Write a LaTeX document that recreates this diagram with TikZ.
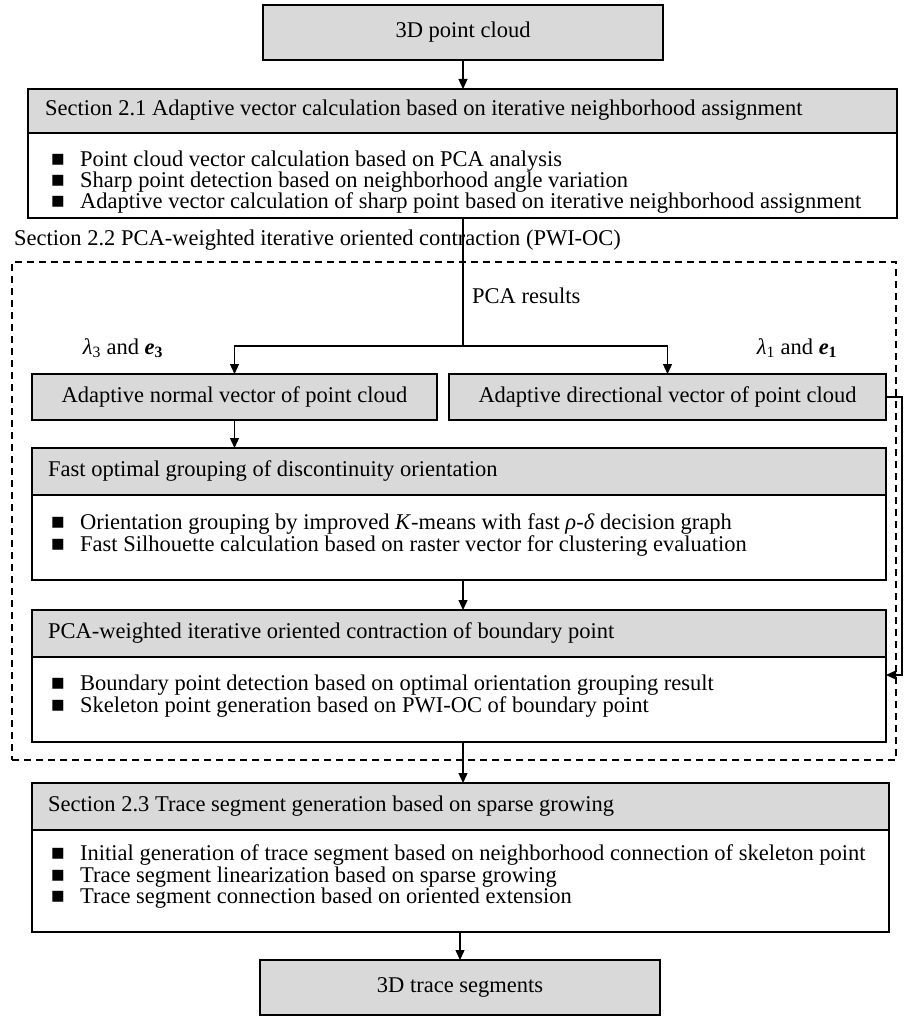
\documentclass[tikz,border=0pt]{standalone}
\usepackage{fontspec}
\setmainfont{Liberation Serif}
\usetikzlibrary{arrows.meta,calc}
\definecolor{hdrgray}{RGB}{217,217,217}
\newcommand{\bul}{\makebox[29pt][l]{■}}
\begin{document}
\begin{tikzpicture}[x=1pt,y=-1pt,
  box/.style={draw=black,line width=1.4pt,inner sep=0pt,outer sep=0pt},
  hdr/.style={box,fill=hdrgray},
  bdy/.style={box,fill=white},
  txt/.style={inner sep=0pt,anchor=west,font=\fontsize{22.5}{21}\selectfont,text height=15pt,text depth=5pt},
  ctr/.style={txt,anchor=center},
  conn/.style={line width=1.3pt,-{Triangle[length=10pt,width=9pt]}},
  plain/.style={line width=1.3pt},
  dashbox/.style={draw,line width=1.3pt,dash pattern=on 7pt off 5pt}]
\useasboundingbox (0,0) rectangle (903,1016);

% top box
\node[hdr,minimum width=400pt,minimum height=55pt,font=\fontsize{22.5}{21}\selectfont,text height=15pt,text depth=5pt] (pc) at (463,32.5) {3D point cloud};

% Section 2.1
\node[hdr,minimum width=869pt,minimum height=44pt] (s1h) at (462.5,111) {};
\node[bdy,minimum width=869pt,minimum height=85pt] (s1b) at (462.5,175.5) {};
\node[txt] (s1t) at (45,111) {Section 2.1 Adaptive vector calculation based on iterative neighborhood assignment};
\node[txt] (s1a) at (51,162) {\bul Point cloud vector calculation based on PCA analysis};
\node[txt] (s1c) at (51,183) {\bul Sharp point detection based on neighborhood angle variation};
\node[txt] (s1d) at (51,204) {\bul Adaptive vector calculation of sharp point based on iterative neighborhood assignment};

% Section 2.2 label and dashed frame
\node[txt] (s2lab) at (14,240) {Section 2.2 PCA-weighted iterative oriented contraction (PWI-OC)};
\node[dashbox,inner sep=0pt,minimum width=884pt,minimum height=498pt] (frame) at (454,511) {};
\node[txt] (pcar) at (472,298) {PCA results};
\node[ctr] (l3) at (123,349) {\textit{λ}\textsubscript{3} and \textbf{\textit{e}}\textsubscript{\textbf{3}}};
\node[ctr] (l1) at (797,349) {\textit{λ}\textsubscript{1} and \textbf{\textit{e}}\textsubscript{\textbf{1}}};

% normal / directional
\node[hdr,minimum width=405pt,minimum height=46pt,font=\fontsize{22.5}{21}\selectfont,text height=15pt,text depth=5pt] (nv) at (234.5,397) {Adaptive normal vector of point cloud};
\node[hdr,minimum width=437pt,minimum height=46pt,font=\fontsize{22.5}{21}\selectfont,text height=15pt,text depth=5pt] (dv) at (667.5,397) {Adaptive directional vector of point cloud};

% fast grouping
\node[hdr,minimum width=854pt,minimum height=47pt] (fh) at (459,471.5) {};
\node[bdy,minimum width=854pt,minimum height=85pt] (fb) at (459,537.5) {};
\node[txt] (ft) at (48,471.5) {Fast optimal grouping of discontinuity orientation};
\node[txt] (fa) at (51,524) {\bul Orientation grouping by improved \textit{K}-means with fast \textit{ρ}-\textit{δ} decision graph};
\node[txt] (fc) at (51,546) {\bul Fast Silhouette calculation based on raster vector for clustering evaluation};

% PCA-weighted
\node[hdr,minimum width=854pt,minimum height=47pt] (ph) at (459,633.5) {};
\node[bdy,minimum width=854pt,minimum height=85pt] (pb) at (459,699.5) {};
\node[txt] (pt) at (48,633.5) {PCA-weighted iterative oriented contraction of boundary point};
\node[txt] (pa) at (51,685) {\bul Boundary point detection based on optimal orientation grouping result};
\node[txt] (pcc) at (51,707) {\bul Skeleton point generation based on PWI-OC of boundary point};

% Section 2.3
\node[hdr,minimum width=857pt,minimum height=47pt] (s3h) at (460.5,806.5) {};
\node[bdy,minimum width=857pt,minimum height=102pt] (s3b) at (460.5,881) {};
\node[txt] (s3t) at (48,806.5) {Section 2.3 Trace segment generation based on sparse growing};
\node[txt] (s3a) at (51,855) {\bul Initial generation of trace segment based on neighborhood connection of skeleton point};
\node[txt] (s3c) at (51,877) {\bul Trace segment linearization based on sparse growing};
\node[txt] (s3d) at (51,898) {\bul Trace segment connection based on oriented extension};

% output
\node[hdr,minimum width=400pt,minimum height=55pt,font=\fontsize{22.5}{21}\selectfont,text height=15pt,text depth=5pt] (out) at (460,987.5) {3D trace segments};

% connectors
\coordinate (split) at (463,346);
\coordinate (rc) at (902,675);
\draw[conn] (pc.south) -- (s1h.north -| pc.south);
\draw[plain] (s1b.south -| split) -- (split);
\draw[conn] (split) -| (nv.north);
\draw[conn] (split) -| (dv.north);
\draw[conn] (nv.south) -- (nv.south |- fh.north);
\draw[conn] (fb.south -| split) -- (ph.north -| split);
\draw[conn] (pb.south -| split) -- (s3h.north -| split);
\draw[conn] (s3b.south -| out.north) -- (out.north);
\draw[conn] (dv.east) -| (rc) -- (pb.east |- rc);
\end{tikzpicture}
\end{document}
